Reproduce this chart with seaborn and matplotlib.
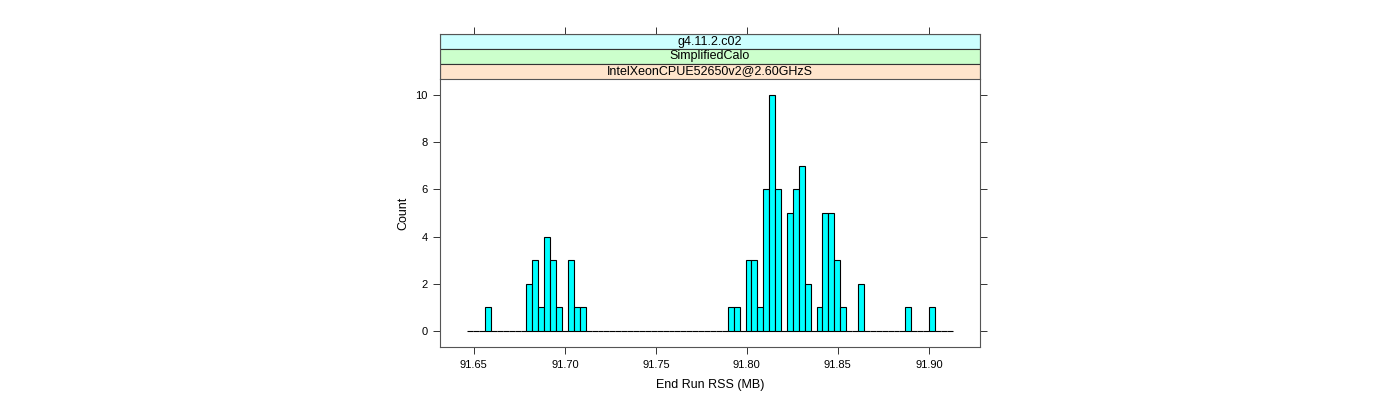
import numpy as np
import pandas as pd
import seaborn as sns
import matplotlib.pyplot as plt
from matplotlib.patches import Rectangle

# histogram data: bin index -> count
bin_lo = 91.6464
bin_hi = 91.9131
n_bins = 82
bin_index = [3, 10, 11, 12, 13, 14, 15, 17, 18, 19,
             44, 45, 47, 48, 49, 50, 51, 52, 54, 55, 56, 57,
             59, 60, 61, 62, 63, 66, 74, 78]
counts = [1, 2, 3, 1, 4, 3, 1, 3, 1, 1,
          1, 1, 3, 3, 1, 6, 10, 6, 5, 6, 7, 2,
          1, 5, 5, 3, 1, 2, 1, 1]
strip_labels = ["g4.11.2.c02", "SimplifiedCalo", "IntelXeonCPUE52650v2@2.60GHzS"]
strip_colors = ["#ccffff", "#ccffcc", "#ffe5cc"]
x_ticks = [91.65, 91.70, 91.75, 91.80, 91.85, 91.90]
y_ticks = [0, 2, 4, 6, 8, 10]

edges = np.linspace(bin_lo, bin_hi, n_bins + 1)
width = edges[1] - edges[0]
df = pd.DataFrame({"rss": [edges[i] + width / 2 for i in bin_index],
                   "n": counts})

sns.set_style("white")
plt.rcParams["font.family"] = ["Liberation Sans", "DejaVu Sans"]
plt.rcParams["text.color"] = "black"
plt.rcParams["axes.labelcolor"] = "black"
plt.rcParams["xtick.color"] = "black"
plt.rcParams["ytick.color"] = "black"

fig = plt.figure(figsize=(14, 4), dpi=100)
ax = fig.add_axes([440 / 1400, 53 / 400, 540 / 1400, 268 / 400])
sax = fig.add_axes([440 / 1400, 321 / 400, 540 / 1400, 45 / 400], sharex=ax)

sns.histplot(data=df, x="rss", weights="n", bins=list(edges), ax=ax,
             color="#00ffff", edgecolor="black", linewidth=0.8, alpha=1)

ax.set_xlim(91.6314, 91.9281)
ax.set_ylim(-0.68, 10.68)
ax.set_xticks(x_ticks)
ax.set_xticklabels([f"{t:.2f}" for t in x_ticks])
ax.set_yticks(y_ticks)
ax.tick_params(direction="out", length=5, width=0.7, labelsize=8, color="#333333",
               left=True, right=True, bottom=True, top=False, pad=4)
ax.set_xlabel("End Run RSS (MB)", fontsize=9, labelpad=7)
ax.set_ylabel("Count", fontsize=9, labelpad=4)
for sp in ax.spines.values():
    sp.set_color("#555555")
    sp.set_linewidth(0.8)

# strips
sax.set_ylim(0, 3)
for i, (lab, col) in enumerate(zip(strip_labels, strip_colors)):
    y0 = 2 - i
    sax.add_patch(Rectangle((0, y0), 1, 1, transform=sax.get_yaxis_transform(),
                            facecolor=col, edgecolor="#333333", linewidth=0.8))
    sax.text(0.5, y0 + 0.5, lab, transform=sax.get_yaxis_transform(),
             ha="center", va="center", fontsize=9)
sax.tick_params(direction="out", length=5, width=0.7, color="#333333",
                left=False, right=False, bottom=False, top=True,
                labelbottom=False, labelleft=False, labeltop=False)
sax.set_yticks([])
for sp in sax.spines.values():
    sp.set_color("#555555")
    sp.set_linewidth(0.8)
sax.spines["bottom"].set_visible(False)

fig.savefig("out.png", dpi=100)
